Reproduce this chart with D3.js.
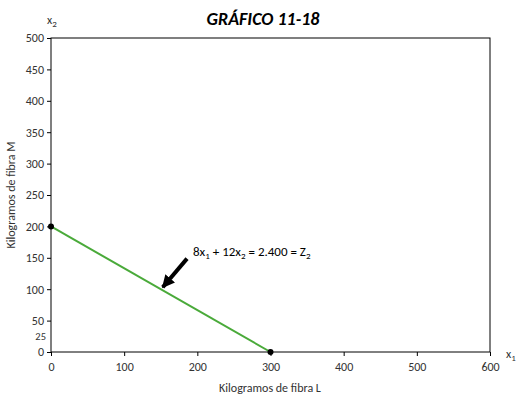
<!DOCTYPE html>
<html><head><meta charset="utf-8">
<script src="https://cdn.jsdelivr.net/npm/d3@7.9.0/dist/d3.min.js"></script>
<style>body{margin:0;background:#fff}text{font-family:Calibri,Carlito,Lato,sans-serif}</style>
</head><body><svg id="c" width="527" height="407"></svg>
<script>
const xTicks = [0, 100, 200, 300, 400, 500, 600];
const yTicks = [0, 50, 100, 150, 200, 250, 300, 350, 400, 450, 500];
const lineX = [0, 300];
const lineY = [200, 0];
const arrowFrom = [190, 155];
const arrowTo = [150, 100];

const svg = d3.select('#c');
const x = d3.scaleLinear().domain([0, 600]).range([51, 490]);
const y = d3.scaleLinear().domain([0, 500]).range([352, 38]);

svg.append('rect').attr('x', 51).attr('y', 38).attr('width', 439).attr('height', 314)
    .attr('fill', 'none').attr('stroke', '#000').attr('stroke-width', 1);

const fs = '12px';
svg.append('g').attr('transform', 'translate(0,352)')
    .call(d3.axisBottom(x).tickValues(xTicks).tickSize(4).tickSizeOuter(0))
    .call(g => g.selectAll('text').attr('font-size', fs).attr('dy', '1em').attr('fill', '#333'));
svg.append('g').attr('transform', 'translate(51,0)')
    .call(d3.axisLeft(y).tickValues(yTicks).tickSize(4).tickSizeOuter(0))
    .call(g => g.selectAll('text').attr('font-size', fs).attr('fill', '#333'));
svg.selectAll('.domain').remove();

svg.append('text').attr('x', 46).attr('y', y(25) + 4).attr('text-anchor', 'end')
    .attr('font-size', '10.5px').attr('fill', '#333').text('25');

svg.append('line')
    .attr('x1', x(lineX[0])).attr('y1', y(lineY[0]))
    .attr('x2', x(lineX[1])).attr('y2', y(lineY[1]))
    .attr('stroke', '#4aaa3a').attr('stroke-width', 2);

svg.selectAll('circle.pt').data(lineX.map((d, i) => [d, lineY[i]])).join('circle')
    .attr('cx', d => x(d[0])).attr('cy', d => y(d[1])).attr('r', 3)
    .attr('fill', '#000');

svg.append('defs').append('marker').attr('id', 'ah').attr('viewBox', '0 0 10 10')
    .attr('refX', 9).attr('refY', 5).attr('markerWidth', 3.2).attr('markerHeight', 3.2)
    .attr('orient', 'auto').append('path').attr('d', 'M0,0L10,5L0,10z').attr('fill', '#000');
svg.append('line')
    .attr('x1', x(arrowFrom[0]) - 3).attr('y1', y(arrowFrom[1]) + 4)
    .attr('x2', x(arrowTo[0]) + 2).attr('y2', y(arrowTo[1]) - 2)
    .attr('stroke', '#000').attr('stroke-width', 4).attr('marker-end', 'url(#ah)');

const ann = svg.append('text').attr('x', 193).attr('y', 256).attr('font-size', '13px').attr('fill', '#000');
ann.append('tspan').text('8x');
ann.append('tspan').attr('dy', 3).attr('font-size', '9px').text('1');
ann.append('tspan').attr('dy', -3).text(' + 12x');
ann.append('tspan').attr('dy', 3).attr('font-size', '9px').text('2');
ann.append('tspan').attr('dy', -3).text(' = 2.400 = Z');
ann.append('tspan').attr('dy', 3).attr('font-size', '9px').text('2');

svg.append('text').attr('x', 263).attr('y', 25).attr('text-anchor', 'middle')
    .attr('font-size', '18px').attr('font-weight', 'bold').attr('font-style', 'italic').text('GRÁFICO 11-18');

const x2 = svg.append('text').attr('x', 47).attr('y', 24).attr('font-size', '12px').attr('fill', '#333');
x2.append('tspan').text('x');
x2.append('tspan').attr('dy', 3).attr('font-size', '9px').text('2');
const x1 = svg.append('text').attr('x', 506).attr('y', 358).attr('font-size', '12px').attr('fill', '#333');
x1.append('tspan').text('x');
x1.append('tspan').attr('dy', 3).attr('font-size', '9px').text('1');

svg.append('text').attr('x', 270).attr('y', 392).attr('text-anchor', 'middle')
    .attr('font-size', '12px').attr('fill', '#333').text('Kilogramos de fibra L');
svg.append('text').attr('transform', 'translate(15,195) rotate(-90)').attr('text-anchor', 'middle')
    .attr('font-size', '12px').attr('fill', '#333').text('Kilogramos de fibra M');
</script></body></html>
